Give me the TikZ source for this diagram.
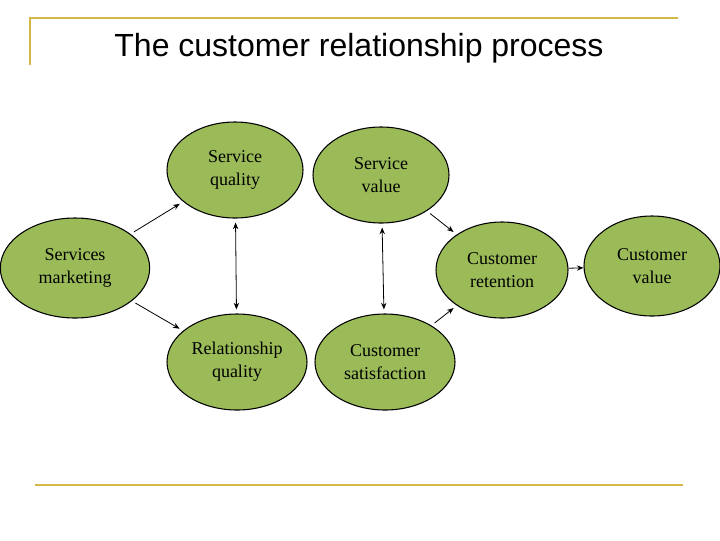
\documentclass[tikz,border=0pt]{standalone}
\usepackage{fontspec}
\setmainfont{Liberation Serif}
\newfontfamily\titlefont{Liberation Sans}
\usetikzlibrary{shapes.geometric,arrows.meta}
\definecolor{olive}{HTML}{9BBB59}
\definecolor{gold}{HTML}{D4B84A}
\begin{document}
\begin{tikzpicture}[x=0.75pt,y=-0.75pt,
  blob/.style={ellipse,draw=black,line width=0.8pt,fill=olive,inner sep=0pt,align=center,font=\fontsize{13.5}{17}\selectfont},
  arr/.style={-{Stealth[length=5pt,width=4pt]},line width=0.6pt,shorten >=3pt,shorten <=3pt},
  darr/.style={{Stealth[length=5pt,width=4pt]}-{Stealth[length=5pt,width=4pt]},line width=0.6pt,shorten >=3pt,shorten <=3pt}]
\useasboundingbox (0,0) rectangle (720,540);
\draw[gold,line width=1pt] (30,65) -- (30,18) -- (678,18);
\draw[gold,line width=1pt] (35,485) -- (683,485);
\node[font=\titlefont\fontsize{24}{28}\selectfont] (title) at (359,48) {The customer relationship process};
\node[blob,minimum width=102pt,minimum height=72pt] (sq) at (235,170) {Service\\quality};
\node[blob,minimum width=102pt,minimum height=72pt] (sv) at (381,175) {Service\\value};
\node[blob,minimum width=112pt,minimum height=75pt] (sm) at (75,268) {Services\\marketing};
\node[blob,minimum width=99pt,minimum height=72pt] (cr) at (502,270) {Customer\\retention};
\node[blob,minimum width=102pt,minimum height=75pt] (cv) at (652,266) {Customer\\value};
\node[blob,minimum width=105pt,minimum height=72pt] (rq) at (237,362) {Relationship\\quality};
\node[blob,minimum width=105pt,minimum height=72pt] (cs) at (385,362) {Customer\\satisfaction};
\draw[arr] (sm) -- (sq);
\draw[arr] (sm) -- (rq);
\draw[arr] (sv) -- (cr);
\draw[arr] (cs) -- (cr);
\draw[arr,shorten >=0pt,shorten <=0pt] (cr) -- (cv);
\draw[darr] (sq) -- (rq);
\draw[darr] (sv) -- (cs);
\end{tikzpicture}
\end{document}
